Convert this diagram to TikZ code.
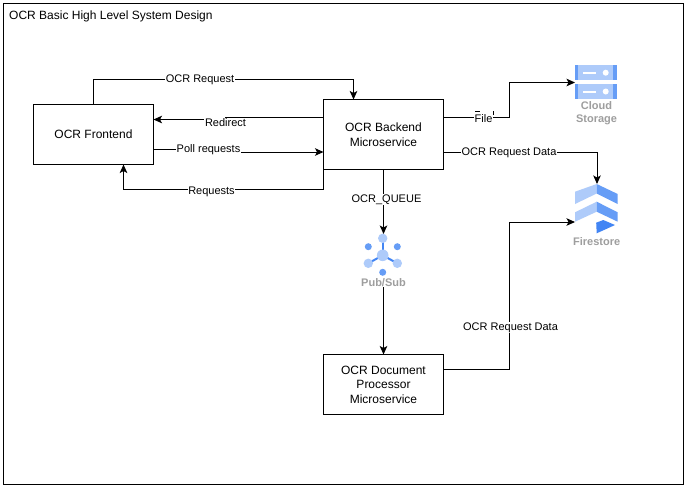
\documentclass[tikz,border=0pt]{standalone}
\usepackage{fontspec}
\setmainfont{Liberation Sans}
\usetikzlibrary{arrows.meta}
\definecolor{lb}{HTML}{AECBFA}
\definecolor{mb}{HTML}{669DF6}
\definecolor{db}{HTML}{4285F4}
\definecolor{gl}{HTML}{9E9E9E}
\tikzset{
 box/.style={draw=black,fill=white,line width=1pt,align=center,font=\fontsize{12}{14.6}\selectfont,inner sep=0pt,outer sep=0pt},
 conn/.style={draw=black,line width=1pt,-{Stealth[length=8.5pt,width=7.5pt,inset=2pt]}},
 lab/.style={fill=white,inner sep=.6pt,font=\fontsize{11}{13}\selectfont},
 iconlab/.style={text=gl,font=\fontsize{11}{13}\selectfont\bfseries,align=center,inner sep=0pt},
}
\begin{document}
\begin{tikzpicture}[x=1pt,y=-1pt]
\useasboundingbox (0,0) rectangle (684,485);
\fill[white] (0,0) rectangle (684,485);
\node[draw=black,line width=1pt,minimum width=680pt,minimum height=481pt,inner sep=0pt,outer sep=0pt,anchor=north west] (frame) at (3.5,3.5) {};
\node[anchor=west,inner sep=0pt,font=\fontsize{12}{14}\selectfont] (title) at (9,16) {OCR Basic High Level System Design};
\node[box,minimum width=120pt,minimum height=60pt] (fe) at (93.5,134.5) {OCR Frontend};
\node[box,minimum width=120pt,minimum height=70pt] (be) at (383.5,134.5) {OCR Backend\\Microservice};
\node[box,minimum width=120pt,minimum height=60pt] (dp) at (383.5,384.5) {OCR Document\\Processor\\Microservice};
% Cloud Storage icon
\fill[mb] (575,65) rectangle (617,80);
\fill[mb] (575,84) rectangle (617,99);
\fill[lb] (578,65) rectangle (613,80);
\fill[lb] (578,84) rectangle (613,99);
\foreach \yy in {72.7,91.5}{
 \fill[white] (583,\yy-1) rectangle (596,\yy+1);
 \fill[white] (605.7,\yy) circle (3);
}
\node[iconlab] (cslab) at (596.5,113) {Cloud\\Storage};
% Firestore icon
\fill[lb] (575,191.7) -- (596.7,184) -- (596.7,193.5) -- (575,204) -- cycle;
\fill[mb] (596.7,184) -- (617.7,194) -- (617.7,204) -- (596.7,193.5) -- cycle;
\fill[lb] (575,212.3) -- (596.7,201.7) -- (596.7,211.7) -- (575,221.7) -- cycle;
\fill[mb] (596.7,201.7) -- (617.7,212.3) -- (617.7,221.7) -- (596.7,211.7) -- cycle;
\fill[db] (596.2,222.7) -- (603.3,220) -- (615,225) -- (596.7,233.3) -- cycle;
\node[iconlab] (fslab) at (596.7,241.5) {Firestore};
% Pub/Sub icon
\draw[db,line width=2pt] (382.7,238.3) -- (382.7,255.3);
\draw[db,line width=2pt] (368.3,263.3) -- (382.7,255.3) -- (397.3,263.3);
\fill[lb] (382.7,238.3) circle (4.7);
\fill[lb] (382.7,255.3) circle (5.8);
\fill[lb] (368.3,263.3) circle (4.7);
\fill[lb] (397.3,263.3) circle (4.7);
\fill[mb] (368.3,246.7) circle (3.5);
\fill[mb] (397.3,246.7) circle (3.5);
\fill[mb] (382.7,272.3) circle (3.5);
\node[iconlab] (pslab) at (383.5,283) {Pub/Sub};
% connectors
\coordinate (csin) at (575,82.5);
\coordinate (fsin) at (575,222);
\coordinate (fstop) at (597,184);
\coordinate (psin) at (383.5,234);
\draw[conn] (fe.north -| 93.5,0) -- (93.5,79.5) -- (353.5,79.5) -- (be.north -| 353.5,0);
\draw[conn] (be.west |- 0,117) -- (225,117) -- (225,119.5) -- (fe.east |- 0,119.5);
\draw[conn] (fe.east |- 0,149.5) -- (208,149.5) -- (208,152) -- (be.west |- 0,152);
\draw[conn] (be.south west) -- (323.5,189.5) -- (123.5,189.5) -- (fe.south -| 123.5,0);
\draw[conn] (be.east |- 0,117) -- (509.5,117) -- (509.5,82.5) -- (csin);
\draw[conn] (be.east |- 0,152) -- (597,152) -- (fstop);
\draw[conn] (be.south) -- (psin);
\draw[conn] (pslab.south -| 383.5,0) -- (dp.north);
\draw[conn] (dp.east |- 0,369.5) -- (509.5,369.5) -- (509.5,222) -- (fsin);
% labels
\node[lab] (l1) at (200,79.8) {OCR Request};
\node[lab] (l2) at (225.5,122.3) {Redirect};
\node[lab] (l3) at (208.5,149.8) {Poll requests};
\node[lab] (l4) at (211.5,192.3) {Requests};
\node[lab] (l6) at (509,152.3) {OCR Request Data};
\node[lab] (l7) at (386.5,199.3) {OCR\_QUEUE};
\node[lab] (l8) at (510.5,327.3) {OCR Request Data};
\node[lab] (l5) at (483.5,119) {File};
\draw[black,line width=.7pt] (475,111) -- (480,111);
\draw[black,line width=.7pt] (493.4,111) -- (493.4,115);
\end{tikzpicture}
\end{document}
